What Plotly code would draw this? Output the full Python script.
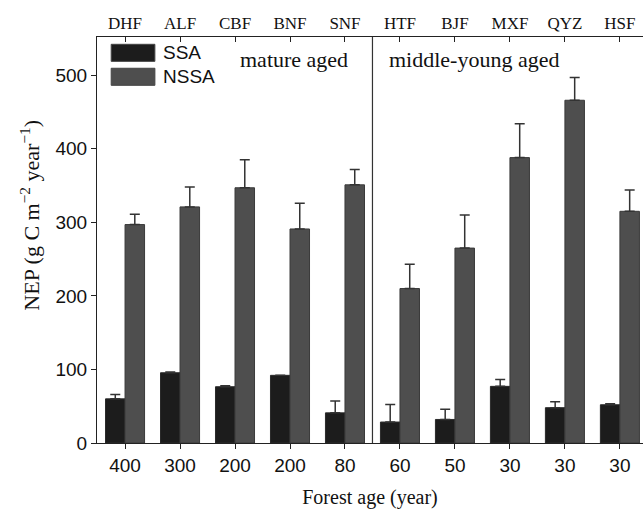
import plotly.graph_objects as go

sites = ["DHF", "ALF", "CBF", "BNF", "SNF", "HTF", "BJF", "MXF", "QYZ", "HSF"]
ages = ["400", "300", "200", "200", "80", "60", "50", "30", "30", "30"]
ssa = [60, 95.5, 76.5, 92, 41, 28.5, 32, 77, 48, 52]
ssa_err = [6, 1, 1.2, 0, 16, 24, 14, 9.5, 8, 1.3]
nssa = [297, 321, 347, 291, 351, 210, 265, 388, 466, 315]
nssa_err = [14, 27, 38, 35, 21, 33, 45, 46, 31, 29]

x = list(range(len(sites)))
zeros = [0] * len(sites)

fig = go.Figure()
fig.add_trace(go.Bar(
    x=x, y=ssa, name="SSA", showlegend=False,
    marker=dict(color="#1c1c1c", line=dict(color="#2a2a2a", width=1)),
    error_y=dict(type="data", symmetric=False, array=ssa_err, arrayminus=zeros,
                 color="#333333", thickness=1.5, width=5),
))
fig.add_trace(go.Bar(
    x=x, y=nssa, name="NSSA", showlegend=False,
    marker=dict(color="#4e4e4e", line=dict(color="#3a3a3a", width=1)),
    error_y=dict(type="data", symmetric=False, array=nssa_err, arrayminus=zeros,
                 color="#333333", thickness=1.5, width=5),
))
# invisible trace to activate top axis
fig.add_trace(go.Scatter(x=x, y=zeros, xaxis="x2", mode="markers",
                         marker=dict(opacity=0), hoverinfo="skip", showlegend=False))

xr = [-0.51, 9.42]
serif = "Liberation Serif, Times New Roman"
sans = "Liberation Sans, Arial"
fig.update_layout(
    width=643, height=511,
    margin=dict(l=97, r=0, t=37, b=68),
    paper_bgcolor="white", plot_bgcolor="white",
    barmode="group", bargap=0.29, bargroupgap=0,
    xaxis=dict(range=xr, tickmode="array", tickvals=x, ticktext=ages,
               ticks="outside", ticklen=5, tickwidth=1.2, tickcolor="#222",
               showline=True, linecolor="#222", linewidth=1.2, showgrid=False,
               zeroline=False,
               tickfont=dict(family=sans, size=19, color="#111"),
               title=dict(text="Forest age (year)", standoff=15,
                          font=dict(family=serif, size=20, color="#111"))),
    xaxis2=dict(range=xr, overlaying="x", side="top", tickmode="array", tickvals=x,
                ticktext=sites, ticks="inside", ticklen=5, tickwidth=1.2, tickcolor="#222",
                showline=True, linecolor="#222", linewidth=1.2, showgrid=False,
                zeroline=False,
                tickfont=dict(family=serif, size=17, color="#111")),
    yaxis=dict(range=[0, 552], tickmode="array", tickvals=[0, 100, 200, 300, 400, 500],
               ticks="outside", ticklen=5, tickwidth=1.2, tickcolor="#222",
               showline=True, linecolor="#222", linewidth=1.2, showgrid=False,
               zeroline=False,
               tickfont=dict(family=sans, size=19, color="#111")),
    shapes=[
        dict(type="line", xref="x", yref="paper", x0=4.5, x1=4.5, y0=0, y1=1,
             line=dict(color="#333", width=1.2)),
        dict(type="rect", xref="paper", yref="paper", x0=0.026, x1=0.106, y0=0.94, y1=0.982,
             fillcolor="#1c1c1c", line=dict(color="#444", width=1)),
        dict(type="rect", xref="paper", yref="paper", x0=0.026, x1=0.106, y0=0.881, y1=0.923,
             fillcolor="#4e4e4e", line=dict(color="#444", width=1)),
    ],
    annotations=[
        dict(text="NEP (g C m<sup>\u22122</sup> year<sup>\u22121</sup>)", xref="paper", yref="paper",
             x=-0.123, y=0.562, xanchor="center", yanchor="middle", textangle=-90,
             showarrow=False, font=dict(family=serif, size=22, color="#111")),
        dict(text="SSA", xref="paper", yref="paper", x=0.117, y=0.961, xanchor="left",
             yanchor="middle", showarrow=False,
             font=dict(family=sans, size=19, color="#111")),
        dict(text="NSSA", xref="paper", yref="paper", x=0.117, y=0.902, xanchor="left",
             yanchor="middle", showarrow=False,
             font=dict(family=sans, size=19, color="#111")),
        dict(text="mature aged", xref="x", yref="paper", x=3.07, y=0.945, xanchor="center",
             yanchor="middle", showarrow=False,
             font=dict(family=serif, size=22, color="#111")),
        dict(text="middle-young aged", xref="x", yref="paper", x=6.35, y=0.945, xanchor="center",
             yanchor="middle", showarrow=False,
             font=dict(family=serif, size=22, color="#111")),
    ],
)

fig.write_html("out.html", config={"displayModeBar": False},
               post_script="document.body.style.margin='0px';document.body.style.overflow='hidden';")
